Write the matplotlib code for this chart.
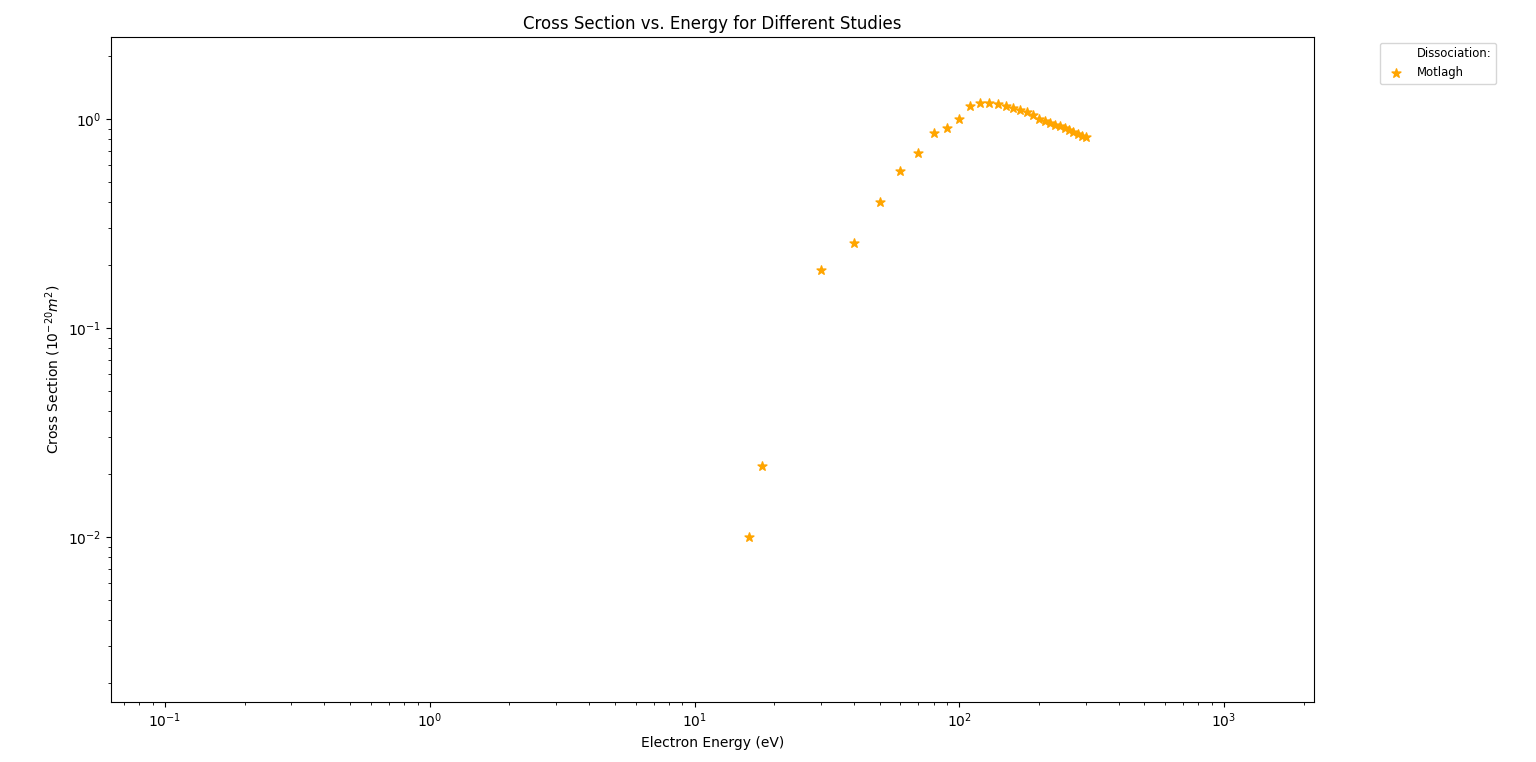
import matplotlib.pyplot as plt
import numpy as np

# Motlagh dissociation cross sections
energia = [16, 18, 30, 40, 50, 60, 70, 80, 90, 100,
           110, 120, 130, 140, 150, 160, 170, 180, 190, 200,
           210, 220, 230, 240, 250, 260, 270, 280, 290, 300]
seccion = [0.010, 0.022, 0.19, 0.255, 0.40, 0.564, 0.688, 0.857, 0.906, 1.0,
           1.154, 1.19, 1.19, 1.176, 1.154, 1.13, 1.10, 1.08, 1.045, 1.0,
           0.978, 0.957, 0.936, 0.926, 0.906, 0.886, 0.87, 0.845, 0.83, 0.82]

fig = plt.figure(figsize=(15.36, 7.62), dpi=100)
ax = fig.add_subplot(111)
fig.subplots_adjust(left=0.0723, right=0.8555, top=0.9514, bottom=0.0787)

ax.plot([], [], ' ', label='Dissociation:')
ax.scatter(energia, seccion, marker='*', color='orange', s=45, label='Motlagh')

ax.set_xscale('log')
ax.set_yscale('log')
ax.set_xlim(0.0625, 2190)
ax.set_ylim(0.001625, 2.47)

ax.set_xlabel('Electron Energy (eV)')
ax.set_ylabel('Cross Section ($10^{-20} m^2$)')
ax.set_title('Cross Section vs. Energy for Different Studies')
ax.legend(bbox_to_anchor=(1.05, 1), loc='upper left', fontsize='small')

plt.savefig('out.png')
